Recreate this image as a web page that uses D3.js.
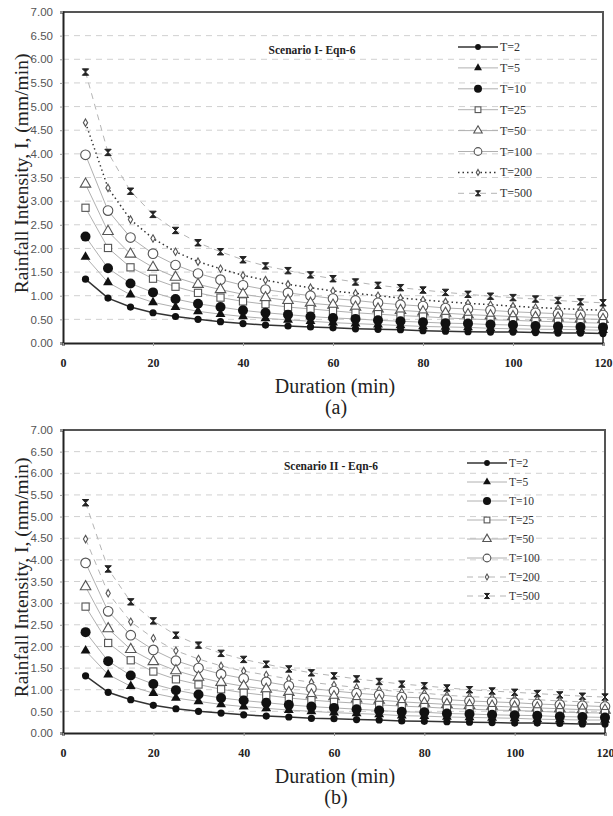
<!DOCTYPE html>
<html>
<head>
<meta charset="utf-8">
<script src="https://cdn.jsdelivr.net/npm/d3@7"></script>
<style>
  body { margin: 0; background: #fff; }
  svg { display: block; }
</style>
</head>
<body>
<svg id="graphic"></svg>
<script>
// durations (min) and return periods
const durations = [5, 10, 15, 20, 25, 30, 35, 40, 45, 50, 55, 60, 65, 70, 75, 80, 85, 90, 95, 100, 105, 110, 115, 120];
const periods = ['T=2', 'T=5', 'T=10', 'T=25', 'T=50', 'T=100', 'T=200', 'T=500'];
const yTicks = [0, 0.5, 1, 1.5, 2, 2.5, 3, 3.5, 4, 4.5, 5, 5.5, 6, 6.5, 7];
const xTicks = [0, 20, 40, 60, 80, 100, 120];

// Scenario I - Eqn-6 (a)
const a_T2 = [1.35, 0.95, 0.76, 0.64, 0.56, 0.50, 0.45, 0.41, 0.38, 0.36, 0.34, 0.32, 0.30, 0.29, 0.28, 0.26, 0.25, 0.24, 0.23, 0.23, 0.22, 0.21, 0.21, 0.20];
const a_T5 = [1.82, 1.28, 1.02, 0.86, 0.76, 0.67, 0.61, 0.56, 0.52, 0.49, 0.46, 0.43, 0.41, 0.39, 0.37, 0.35, 0.34, 0.33, 0.31, 0.30, 0.29, 0.29, 0.28, 0.27];
const a_T10 = [2.25, 1.58, 1.26, 1.07, 0.93, 0.83, 0.76, 0.69, 0.64, 0.60, 0.56, 0.53, 0.51, 0.48, 0.46, 0.44, 0.42, 0.41, 0.39, 0.38, 0.36, 0.35, 0.34, 0.33];
const a_T25 = [2.86, 2.01, 1.60, 1.36, 1.19, 1.06, 0.96, 0.88, 0.82, 0.76, 0.72, 0.68, 0.64, 0.61, 0.58, 0.56, 0.53, 0.51, 0.49, 0.48, 0.46, 0.45, 0.43, 0.42];
const a_T50 = [3.36, 2.36, 1.88, 1.60, 1.39, 1.24, 1.13, 1.03, 0.96, 0.90, 0.84, 0.80, 0.76, 0.72, 0.69, 0.66, 0.63, 0.60, 0.58, 0.56, 0.54, 0.53, 0.51, 0.50];
const a_T100 = [3.98, 2.80, 2.23, 1.89, 1.65, 1.47, 1.34, 1.22, 1.13, 1.06, 1.00, 0.94, 0.90, 0.85, 0.81, 0.78, 0.74, 0.72, 0.69, 0.66, 0.64, 0.62, 0.60, 0.59];
const a_T200 = [4.66, 3.28, 2.61, 2.21, 1.93, 1.72, 1.57, 1.43, 1.33, 1.24, 1.17, 1.10, 1.05, 1.00, 0.95, 0.91, 0.87, 0.84, 0.81, 0.78, 0.75, 0.73, 0.71, 0.69];
const a_T500 = [5.73, 4.03, 3.21, 2.72, 2.38, 2.12, 1.93, 1.76, 1.63, 1.53, 1.44, 1.36, 1.29, 1.22, 1.17, 1.12, 1.07, 1.03, 0.99, 0.96, 0.93, 0.90, 0.87, 0.85];

// Scenario II - Eqn-6 (b)
const b_T2 = [1.32, 0.94, 0.77, 0.64, 0.56, 0.50, 0.46, 0.42, 0.39, 0.37, 0.34, 0.33, 0.31, 0.30, 0.28, 0.27, 0.26, 0.25, 0.24, 0.23, 0.23, 0.22, 0.21, 0.21];
const b_T5 = [1.90, 1.35, 1.08, 0.92, 0.81, 0.73, 0.66, 0.61, 0.57, 0.53, 0.50, 0.47, 0.45, 0.43, 0.40, 0.39, 0.37, 0.36, 0.35, 0.34, 0.32, 0.31, 0.30, 0.30];
const b_T10 = [2.33, 1.66, 1.33, 1.13, 0.99, 0.89, 0.81, 0.75, 0.70, 0.65, 0.61, 0.58, 0.55, 0.52, 0.49, 0.48, 0.45, 0.44, 0.42, 0.41, 0.40, 0.38, 0.37, 0.36];
const b_T25 = [2.92, 2.08, 1.68, 1.42, 1.24, 1.12, 1.01, 0.93, 0.87, 0.81, 0.76, 0.72, 0.69, 0.65, 0.62, 0.60, 0.57, 0.55, 0.53, 0.52, 0.50, 0.48, 0.47, 0.46];
const b_T50 = [3.38, 2.41, 1.93, 1.65, 1.44, 1.29, 1.17, 1.08, 1.01, 0.94, 0.88, 0.84, 0.79, 0.76, 0.72, 0.69, 0.66, 0.64, 0.62, 0.60, 0.58, 0.56, 0.54, 0.53];
const b_T100 = [3.93, 2.81, 2.26, 1.92, 1.67, 1.50, 1.36, 1.26, 1.18, 1.09, 1.03, 0.97, 0.92, 0.88, 0.83, 0.81, 0.77, 0.74, 0.72, 0.70, 0.67, 0.65, 0.63, 0.61];
const b_T200 = [4.48, 3.23, 2.57, 2.19, 1.90, 1.71, 1.55, 1.43, 1.34, 1.25, 1.17, 1.11, 1.05, 1.00, 0.95, 0.92, 0.87, 0.84, 0.82, 0.79, 0.77, 0.74, 0.72, 0.70];
const b_T500 = [5.32, 3.79, 3.03, 2.59, 2.26, 2.03, 1.84, 1.70, 1.59, 1.48, 1.39, 1.32, 1.25, 1.19, 1.13, 1.09, 1.04, 1.00, 0.97, 0.94, 0.91, 0.88, 0.85, 0.83];

const W = 613, H = 816;
const svg = d3.select('#graphic').attr('width', W).attr('height', H);

// marker + line look for each return period
const lineStyle = (i, panel) => {
  if (i === 0) return { stroke: '#333', width: 1.5, dash: null };
  if (i === 6 && panel === 'a') return { stroke: '#333', width: 1.5, dash: '1.5,3' };
  if (i >= 6) return { stroke: '#b5b5b5', width: 1, dash: '6,5' };
  return { stroke: '#b0b0b0', width: 1, dash: null };
};

function drawMarker(g, i, scale) {
  const s = scale || 1;
  if (i === 0) {
    g.append('circle').attr('r', 3.6 * s).attr('fill', '#111');
  } else if (i === 1) {
    g.append('path').attr('d', d3.symbol(d3.symbolTriangle, 42 * s * s)).attr('fill', '#111');
  } else if (i === 2) {
    g.append('circle').attr('r', 5 * s).attr('fill', '#111');
  } else if (i === 3) {
    const h = 3.6 * s;
    g.append('rect').attr('x', -h).attr('y', -h).attr('width', 2 * h).attr('height', 2 * h)
        .attr('fill', '#fff').attr('stroke', '#555').attr('stroke-width', 1.1);
  } else if (i === 4) {
    g.append('path').attr('d', d3.symbol(d3.symbolTriangle, 48 * s * s))
        .attr('fill', '#fff').attr('stroke', '#555').attr('stroke-width', 1.1);
  } else if (i === 5) {
    g.append('circle').attr('r', 4.8 * s).attr('fill', '#fff').attr('stroke', '#555').attr('stroke-width', 1.1);
  } else if (i === 6) {
    g.append('path').attr('d', d3.symbol(d3.symbolDiamond, 16 * s * s))
        .attr('fill', '#fff').attr('stroke', '#555').attr('stroke-width', 1.1);
  } else {
    const h = 3.2 * s;
    g.append('path').attr('d', `M${-h},${-h}H${h}L${-h},${h}H${h}Z`)
        .attr('fill', '#222').attr('stroke', '#222').attr('stroke-width', 1);
  }
}

function renderPanel(cfg) {
  const x = d3.scaleLinear().domain([0, 120]).range([cfg.left, cfg.right]);
  const y = d3.scaleLinear().domain([0, 7]).range([cfg.bottom, cfg.top]);
  const g = svg.append('g');

  // dashed grid
  g.selectAll('.grid').data(yTicks.filter((d) => d > 0 && d < 7)).enter()
      .append('line')
      .attr('x1', cfg.left).attr('x2', cfg.right)
      .attr('y1', (d) => y(d)).attr('y2', (d) => y(d))
      .attr('stroke', '#d0d0d0').attr('stroke-dasharray', '6,5');

  // frame top / right
  g.append('path')
      .attr('d', `M${cfg.left},${cfg.top}H${cfg.right}V${cfg.bottom}`)
      .attr('fill', 'none').attr('stroke', '#555').attr('stroke-width', 2);

  const yAxis = d3.axisLeft(y).tickValues(yTicks).tickFormat(d3.format('.2f')).tickSize(3).tickPadding(7);
  const ya = g.append('g').attr('transform', `translate(${cfg.left},0)`).call(yAxis);
  ya.select('.domain').attr('stroke', '#222').attr('stroke-width', 2);
  ya.selectAll('.tick line').attr('stroke', '#999');
  ya.selectAll('text').attr('font-family', 'Arial, "Liberation Sans", sans-serif')
      .attr('font-size', 11.5).attr('fill', '#555');

  const xAxis = d3.axisBottom(x).tickValues(xTicks).tickFormat(d3.format('d')).tickSize(3).tickPadding(12.5);
  const xa = g.append('g').attr('transform', `translate(0,${cfg.bottom})`).call(xAxis);
  xa.select('.domain').attr('stroke', '#222').attr('stroke-width', 2);
  xa.selectAll('.tick line').attr('stroke', '#999');
  xa.selectAll('text').attr('font-family', '"Liberation Serif", "Times New Roman", serif')
      .attr('font-size', 12).attr('font-weight', 'bold').attr('fill', '#222');

  // lines
  const line = d3.line().x((d) => x(d[0])).y((d) => y(d[1]));
  cfg.series.forEach((vals, i) => {
    const st = lineStyle(i, cfg.name);
    g.append('path')
        .datum(durations.map((t, k) => [t, vals[k]]))
        .attr('d', line)
        .attr('fill', 'none')
        .attr('stroke', st.stroke)
        .attr('stroke-width', st.width)
        .attr('stroke-dasharray', st.dash);
  });

  // markers, high T first so the filled ones stay on top
  for (let i = cfg.series.length - 1; i >= 0; i--) {
    const vals = cfg.series[i];
    durations.forEach((t, k) => {
      const m = g.append('g').attr('transform', `translate(${x(t)},${y(vals[k])})`);
      drawMarker(m, i, 1);
    });
  }

  // title
  g.append('text')
      .attr('x', cfg.titleX).attr('y', cfg.titleY)
      .attr('text-anchor', 'middle')
      .attr('font-family', '"Liberation Serif", "Times New Roman", serif')
      .attr('font-size', 11.5).attr('font-weight', 'bold').attr('fill', '#222')
      .text(cfg.title);

  // legend
  periods.forEach((p, i) => {
    const ly = cfg.legY + i * cfg.legStep;
    const st = lineStyle(i, cfg.name);
    g.append('line')
        .attr('x1', cfg.legX).attr('x2', cfg.legX + 40)
        .attr('y1', ly).attr('y2', ly)
        .attr('stroke', st.stroke).attr('stroke-width', st.width)
        .attr('stroke-dasharray', st.dash);
    const m = g.append('g').attr('transform', `translate(${cfg.legX + 20},${ly})`);
    drawMarker(m, i, 0.8);
    g.append('text')
        .attr('x', cfg.legX + 42).attr('y', ly + 4)
        .attr('font-family', '"Liberation Serif", "Times New Roman", serif')
        .attr('font-size', cfg.legFont).attr('fill', '#333')
        .text(p);
  });

  // axis titles
  const midY = (cfg.top + cfg.bottom) / 2;
  g.append('text')
      .attr('transform', `translate(28,${midY - 4}) rotate(-90)`)
      .attr('text-anchor', 'middle')
      .attr('font-family', '"Liberation Serif", "Times New Roman", serif')
      .attr('font-size', 19.5).attr('fill', '#222')
      .text('Rainfall Intensity, I, (mm/min)');

  g.append('text')
      .attr('x', 335).attr('y', cfg.bottom + 50)
      .attr('text-anchor', 'middle')
      .attr('font-family', '"Liberation Serif", "Times New Roman", serif')
      .attr('font-size', 20).attr('fill', '#222')
      .text('Duration (min)');

  g.append('text')
      .attr('x', 336).attr('y', cfg.bottom + 71)
      .attr('text-anchor', 'middle')
      .attr('font-family', '"Liberation Serif", "Times New Roman", serif')
      .attr('font-size', 20).attr('fill', '#222')
      .text(cfg.tag);
}

renderPanel({
  name: 'a', left: 63, right: 603, top: 12, bottom: 343,
  series: [a_T2, a_T5, a_T10, a_T25, a_T50, a_T100, a_T200, a_T500],
  title: 'Scenario I- Eqn-6', titleX: 312, titleY: 54,
  legX: 458, legY: 47, legStep: 20.9, legFont: 12,
  tag: '(a)',
});

renderPanel({
  name: 'b', left: 63, right: 605, top: 430, bottom: 733,
  series: [b_T2, b_T5, b_T10, b_T25, b_T50, b_T100, b_T200, b_T500],
  title: 'Scenario II - Eqn-6', titleX: 331, titleY: 470,
  legX: 467, legY: 463, legStep: 19, legFont: 11.5,
  tag: '(b)',
});
</script>
</body>
</html>
